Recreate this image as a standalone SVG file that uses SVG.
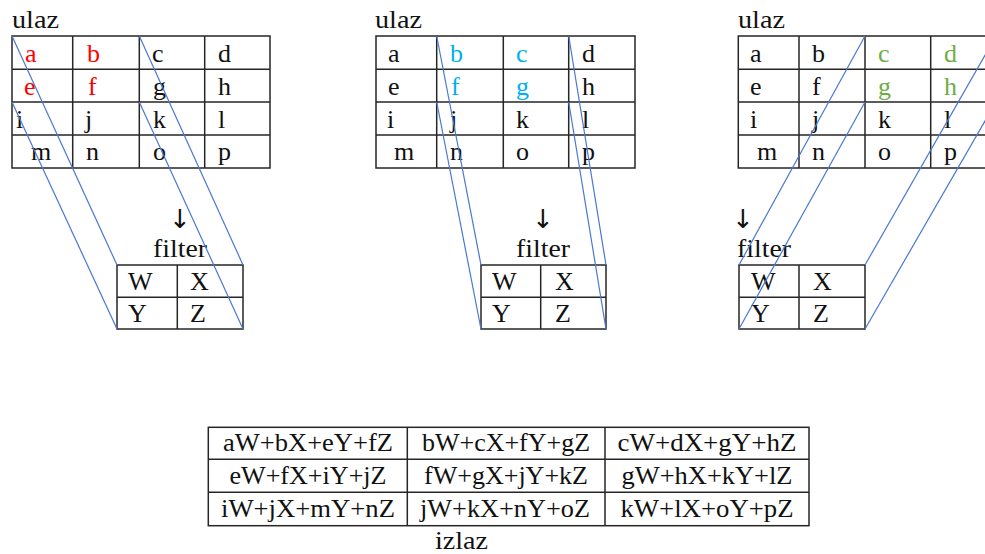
<svg xmlns="http://www.w3.org/2000/svg" width="985" height="554" viewBox="0 0 985 554">
<style>
.bg{fill:#ffffff}
.cell{fill:none;stroke:#262626;stroke-width:1.5}
.t{font-family:"Liberation Serif","Times New Roman",serif;font-size:26px;fill:#111111}
.lbl{font-family:"Liberation Serif","Times New Roman",serif;font-size:26px;fill:#111111}
.arr{font-family:"DejaVu Sans","Liberation Sans",sans-serif;font-size:26px;fill:#111111;text-anchor:middle}
.tb{font-family:"Liberation Serif","Times New Roman",serif;font-size:25px;fill:#111111;text-anchor:middle}
.red{fill:#ff0000}
.cyan{fill:#00b0f0}
.green{fill:#70ad47}
.link{stroke:#4a78d0;stroke-width:1.2;fill:none}
</style>
<rect class="bg" x="0" y="0" width="985" height="554"/>

<!-- Input grid 1 -->
<g id="input1">
  <text class="lbl" x="12" y="28" textLength="47" lengthAdjust="spacingAndGlyphs">ulaz</text>
  <rect class="cell" x="12" y="36" width="258" height="132"/>
  <path class="cell" d="M72.7 36V168M139.3 36V168M204.7 36V168M12 69.3H270M12 102H270M12 135H270"/>
  <text class="t red" x="25" y="62">a</text><text class="t red" x="87" y="62">b</text><text class="t" x="152" y="62">c</text><text class="t" x="218" y="62">d</text>
  <text class="t red" x="24" y="95">e</text><text class="t red" x="88" y="95">f</text><text class="t" x="153" y="95">g</text><text class="t" x="218" y="95">h</text>
  <text class="t" x="16" y="128">i</text><text class="t" x="85" y="128">j</text><text class="t" x="153" y="128">k</text><text class="t" x="218" y="128">l</text>
  <text class="t" x="31" y="160">m</text><text class="t" x="86" y="160">n</text><text class="t" x="153" y="160">o</text><text class="t" x="218" y="160">p</text>
</g>

<!-- Input grid 2 -->
<g id="input2">
  <text class="lbl" x="375" y="28" textLength="47" lengthAdjust="spacingAndGlyphs">ulaz</text>
  <rect class="cell" x="376" y="36" width="259" height="132"/>
  <path class="cell" d="M436.7 36V168M503.3 36V168M568.7 36V168M376 69.3H635M376 102H635M376 135H635"/>
  <text class="t" x="388" y="62">a</text><text class="t cyan" x="450" y="62">b</text><text class="t cyan" x="516" y="62">c</text><text class="t" x="582" y="62">d</text>
  <text class="t" x="388" y="95">e</text><text class="t cyan" x="451" y="95">f</text><text class="t cyan" x="516" y="95">g</text><text class="t" x="582" y="95">h</text>
  <text class="t" x="387" y="128">i</text><text class="t" x="450" y="128">j</text><text class="t" x="516" y="128">k</text><text class="t" x="582" y="128">l</text>
  <text class="t" x="394" y="160">m</text><text class="t" x="450" y="160">n</text><text class="t" x="516" y="160">o</text><text class="t" x="582" y="160">p</text>
</g>

<!-- Input grid 3 -->
<g id="input3">
  <text class="lbl" x="738" y="28" textLength="47" lengthAdjust="spacingAndGlyphs">ulaz</text>
  <rect class="cell" x="738.3" y="36" width="258" height="132"/>
  <path class="cell" d="M799 36V168M865 36V168M930.7 36V168M738.3 69.3H997M738.3 102H997M738.3 135H997"/>
  <text class="t" x="750" y="62">a</text><text class="t" x="812" y="62">b</text><text class="t green" x="878" y="62">c</text><text class="t green" x="944" y="62">d</text>
  <text class="t" x="750" y="95">e</text><text class="t" x="812" y="95">f</text><text class="t green" x="878" y="95">g</text><text class="t green" x="944" y="95">h</text>
  <text class="t" x="750" y="128">i</text><text class="t" x="812" y="128">j</text><text class="t" x="878" y="128">k</text><text class="t" x="944" y="128">l</text>
  <text class="t" x="757" y="160">m</text><text class="t" x="812" y="160">n</text><text class="t" x="878" y="160">o</text><text class="t" x="944" y="160">p</text>
</g>

<!-- Filters -->
<g id="filter1">
  <text class="arr" x="180" y="228">↓</text>
  <text class="lbl" x="180" y="257" text-anchor="middle" textLength="54" lengthAdjust="spacingAndGlyphs">filter</text>
  <rect class="cell" x="117" y="265" width="126" height="64"/>
  <path class="cell" d="M177.3 265V329M117 297.3H243"/>
  <text class="t" x="128" y="290">W</text><text class="t" x="190" y="290">X</text>
  <text class="t" x="128" y="322">Y</text><text class="t" x="190" y="322">Z</text>
</g>
<g id="filter2">
  <text class="arr" x="543" y="228">↓</text>
  <text class="lbl" x="543" y="257" text-anchor="middle" textLength="54" lengthAdjust="spacingAndGlyphs">filter</text>
  <rect class="cell" x="481" y="265" width="125" height="64"/>
  <path class="cell" d="M540.7 265V329M481 297.3H606"/>
  <text class="t" x="492" y="290">W</text><text class="t" x="555" y="290">X</text>
  <text class="t" x="492" y="322">Y</text><text class="t" x="555" y="322">Z</text>
</g>
<g id="filter3">
  <text class="arr" x="743" y="228">↓</text>
  <text class="lbl" x="737" y="257" textLength="54" lengthAdjust="spacingAndGlyphs">filter</text>
  <rect class="cell" x="739" y="265" width="126" height="64"/>
  <path class="cell" d="M799 265V329M739 297.3H865"/>
  <text class="t" x="751" y="290">W</text><text class="t" x="813" y="290">X</text>
  <text class="t" x="751" y="322">Y</text><text class="t" x="813" y="322">Z</text>
</g>

<!-- Connectors -->
<g id="connectors">
  <line class="link" x1="12" y1="36" x2="117" y2="265"/>
  <line class="link" x1="12" y1="102" x2="117" y2="329"/>
  <line class="link" x1="139.3" y1="36" x2="243" y2="265"/>
  <line class="link" x1="139.3" y1="102" x2="243" y2="329"/>
  <line class="link" x1="436.7" y1="36" x2="481" y2="265"/>
  <line class="link" x1="436.7" y1="102" x2="481" y2="329"/>
  <line class="link" x1="568.7" y1="36" x2="606" y2="265"/>
  <line class="link" x1="568.7" y1="102" x2="606" y2="329"/>
  <line class="link" x1="865" y1="36" x2="739" y2="265"/>
  <line class="link" x1="865" y1="102" x2="739" y2="329"/>
  <line class="link" x1="996" y1="36" x2="865" y2="265"/>
  <line class="link" x1="996" y1="102" x2="865" y2="329"/>
</g>

<!-- Output table -->
<g id="output">
  <rect class="cell" x="208.3" y="427.3" width="600.7" height="98.4"/>
  <path class="cell" d="M407.3 427.3V525.7M605 427.3V525.7M208.3 459.3H809M208.3 492.3H809"/>
  <text class="tb" x="308" y="451" textLength="170" lengthAdjust="spacingAndGlyphs">aW+bX+eY+fZ</text>
  <text class="tb" x="506" y="451" textLength="168" lengthAdjust="spacingAndGlyphs">bW+cX+fY+gZ</text>
  <text class="tb" x="707" y="451" textLength="179" lengthAdjust="spacingAndGlyphs">cW+dX+gY+hZ</text>
  <text class="tb" x="308" y="484" textLength="157" lengthAdjust="spacingAndGlyphs">eW+fX+iY+jZ</text>
  <text class="tb" x="506" y="484" textLength="164" lengthAdjust="spacingAndGlyphs">fW+gX+jY+kZ</text>
  <text class="tb" x="707" y="484" textLength="171" lengthAdjust="spacingAndGlyphs">gW+hX+kY+lZ</text>
  <text class="tb" x="308" y="517" textLength="174" lengthAdjust="spacingAndGlyphs">iW+jX+mY+nZ</text>
  <text class="tb" x="505" y="517" textLength="170" lengthAdjust="spacingAndGlyphs">jW+kX+nY+oZ</text>
  <text class="tb" x="707" y="517" textLength="173" lengthAdjust="spacingAndGlyphs">kW+lX+oY+pZ</text>
  <text class="lbl" x="461.5" y="549" text-anchor="middle" font-size="25" textLength="53" lengthAdjust="spacingAndGlyphs">izlaz</text>
</g>
</svg>
